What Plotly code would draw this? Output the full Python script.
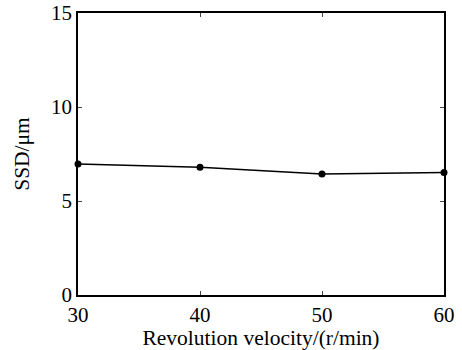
import plotly.graph_objects as go

velocity = [30, 40, 50, 60]
ssd = [6.97, 6.80, 6.44, 6.51]
x_ticks = [30, 40, 50, 60]
y_ticks = [0, 5, 10, 15]

fig = go.Figure()
fig.add_trace(go.Scatter(
    x=velocity, y=ssd, mode="lines+markers",
    line=dict(color="black", width=1.5),
    marker=dict(color="black", size=7),
    cliponaxis=False,
))

family = "Liberation Serif, Times New Roman, serif"
tick_font = dict(family=family, size=21, color="black")
title_font = dict(family=family, size=21.5, color="black")
fig.update_layout(
    width=462, height=350,
    margin=dict(l=78, r=18, t=13, b=55, autoexpand=False),
    paper_bgcolor="white", plot_bgcolor="white",
    showlegend=False,
    font=tick_font,
)
fig.update_xaxes(
    range=[30, 60], tickvals=x_ticks, ticks="inside", ticklen=4,
    showline=True, linecolor="black", linewidth=1.5, mirror="ticks",
    showgrid=False, zeroline=False, automargin=False,
    title=dict(text="Revolution velocity/(r/min)", standoff=2, font=title_font),
    tickfont=tick_font,
)
fig.update_yaxes(
    range=[0, 15], tickvals=y_ticks, ticks="inside", ticklen=4,
    showline=True, linecolor="black", linewidth=1.5, mirror="ticks",
    showgrid=False, zeroline=False, automargin=False,
    title=dict(text="SSD/μm", standoff=16, font=title_font),
    tickfont=tick_font,
)
fig.write_html(
    "out.html",
    config={"displayModeBar": False},
    post_script="document.body.style.margin='0';document.body.style.overflow='hidden';",
)
